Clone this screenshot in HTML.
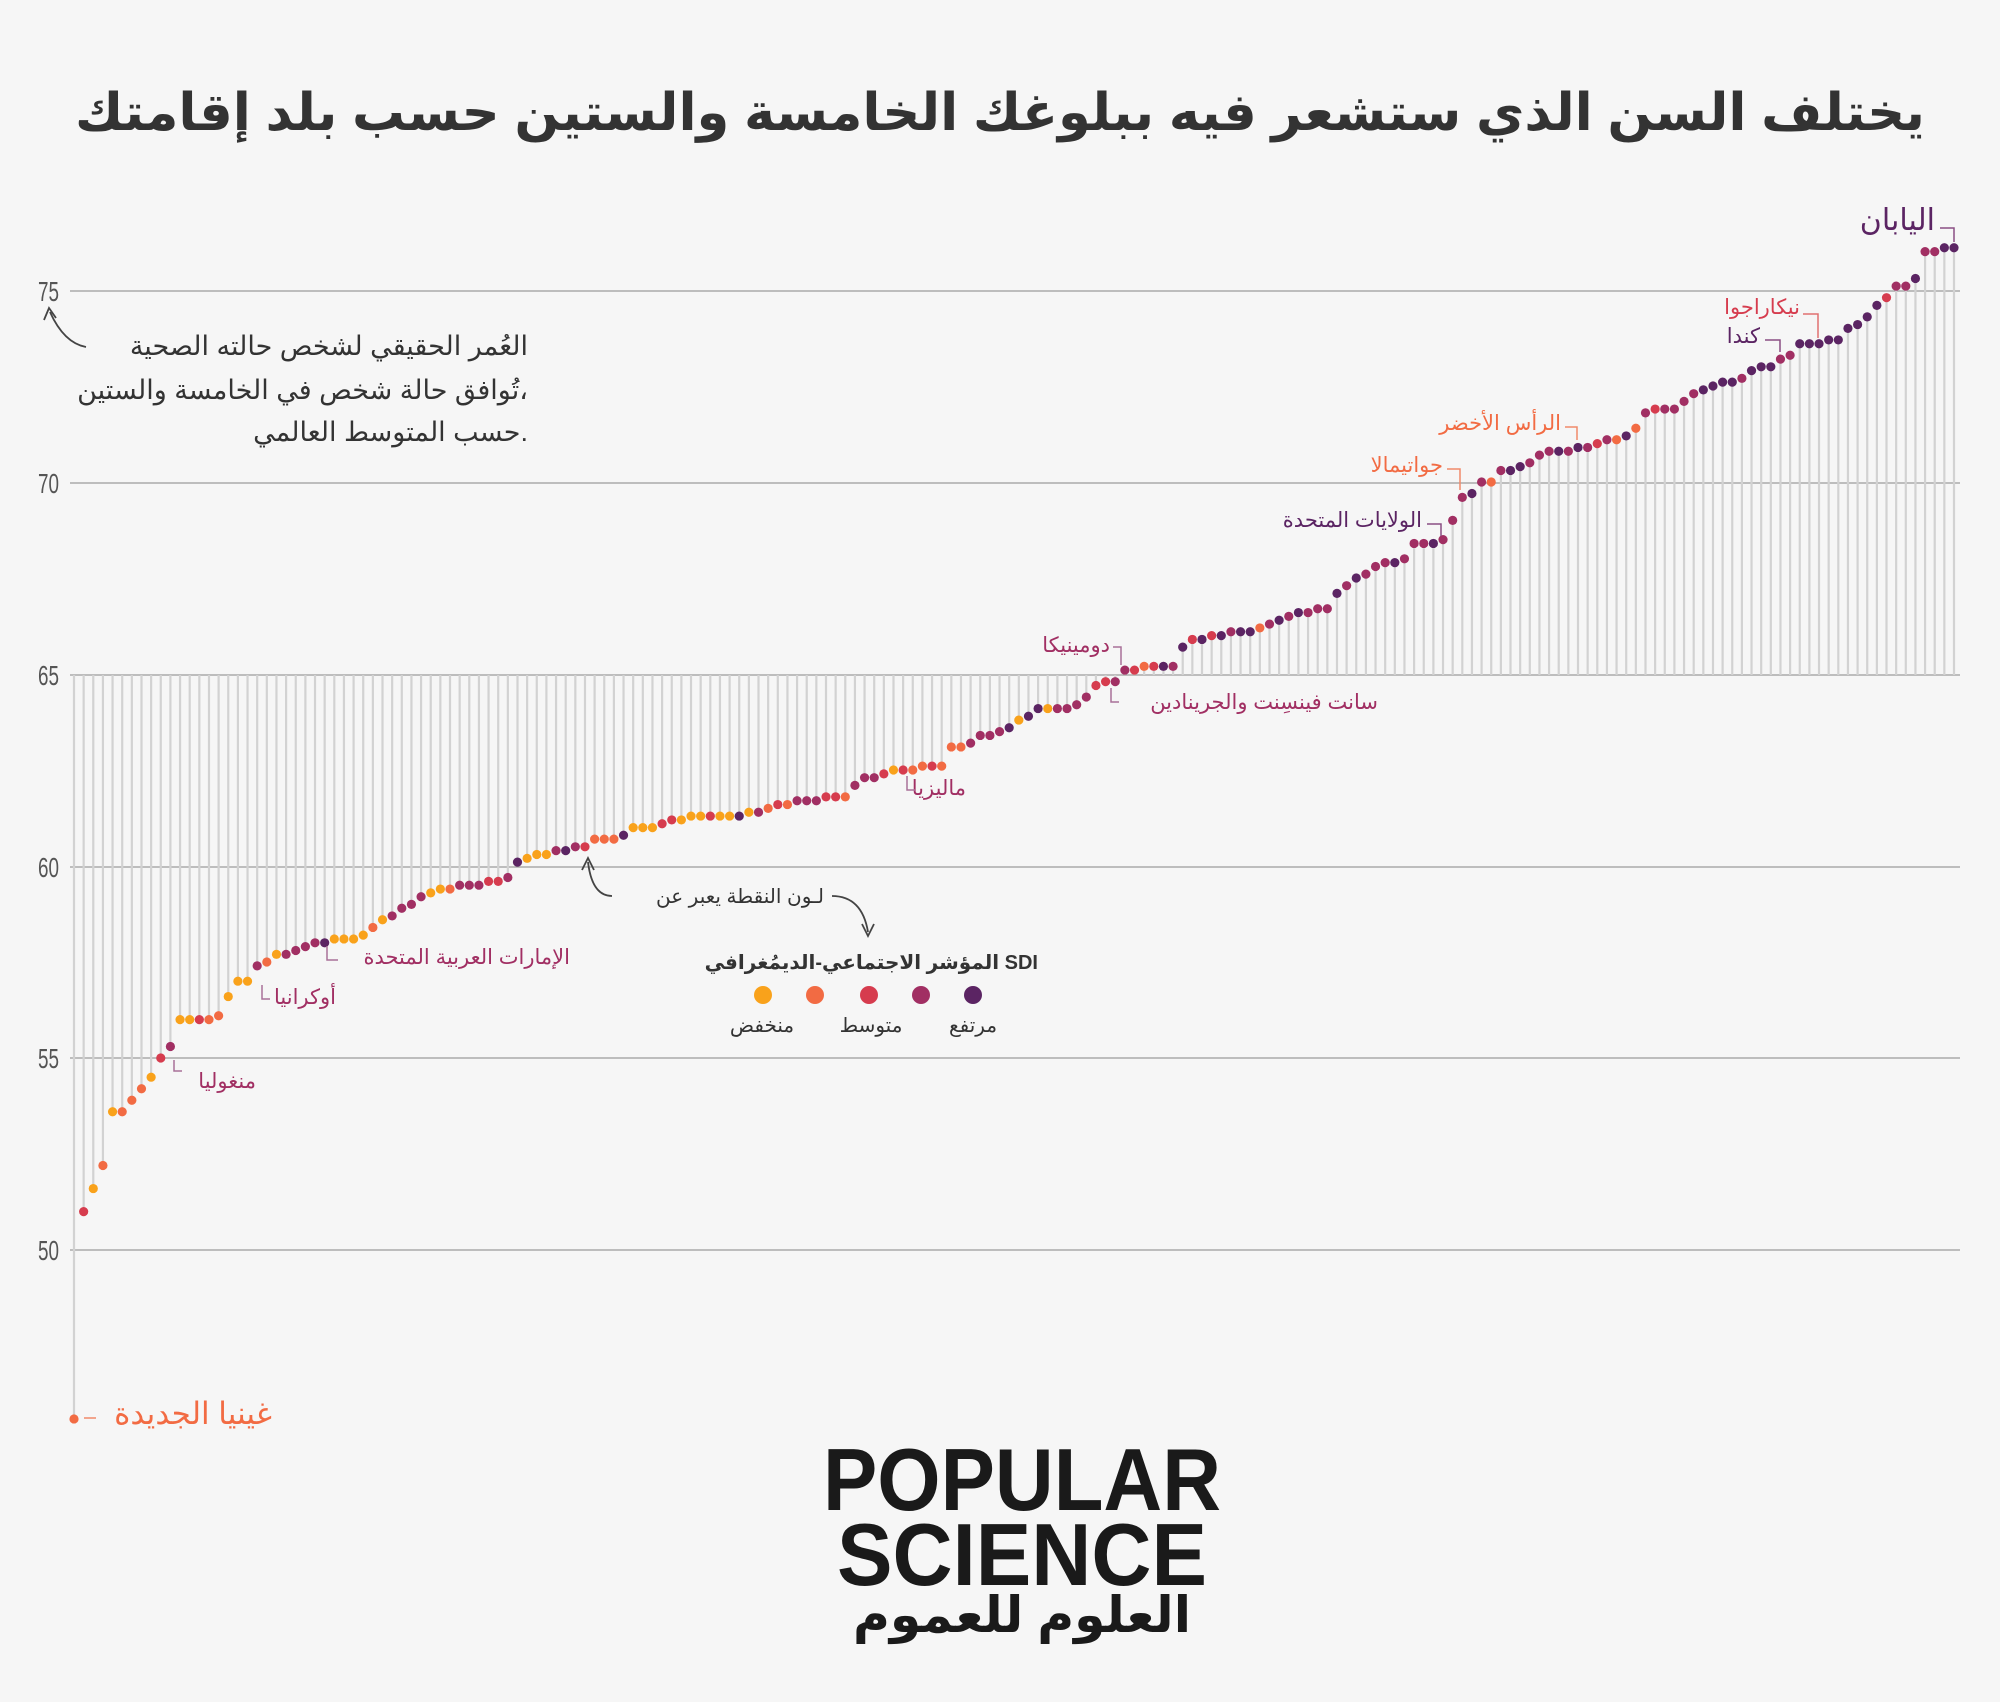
<!DOCTYPE html>
<html><head><meta charset="utf-8">
<style>
html,body{margin:0;padding:0;background:#f6f6f6;}
body{width:2000px;height:1702px;overflow:hidden;}
svg{display:block;font-family:"Liberation Sans","Noto Sans CJK SC","DejaVu Sans",sans-serif;}
</style></head><body>
<svg id="s" width="2000" height="1702" viewBox="0 0 2000 1702">
<rect width="2000" height="1702" fill="#f6f6f6"/>
<text x="1000" y="130" text-anchor="middle" font-size="52" font-weight="bold" fill="#333" textLength="1850" lengthAdjust="spacingAndGlyphs">يختلف السن الذي ستشعر فيه ببلوغك الخامسة والستين حسب بلد إقامتك</text>
<g id="grid" stroke="#aaa" stroke-width="1.5">
<line x1="70" x2="1960" y1="291" y2="291"/>
<line x1="70" x2="1960" y1="483" y2="483"/>
<line x1="70" x2="1960" y1="675" y2="675"/>
<line x1="70" x2="1960" y1="867" y2="867"/>
<line x1="70" x2="1960" y1="1058" y2="1058"/>
<line x1="70" x2="1960" y1="1250" y2="1250"/>
</g>
<g font-size="28" fill="#555" text-anchor="start">
<text x="38" y="301" textLength="21" lengthAdjust="spacingAndGlyphs">75</text><text x="38" y="493" textLength="21" lengthAdjust="spacingAndGlyphs">70</text><text x="38" y="685" textLength="21" lengthAdjust="spacingAndGlyphs">65</text>
<text x="38" y="877" textLength="21" lengthAdjust="spacingAndGlyphs">60</text><text x="38" y="1068" textLength="21" lengthAdjust="spacingAndGlyphs">55</text><text x="38" y="1260" textLength="21" lengthAdjust="spacingAndGlyphs">50</text>
</g>
<g id="stems" stroke="#d2d2d2" stroke-width="2.2"></g>
<g id="dots"></g>
<g font-size="27" fill="#333" text-anchor="end">
<text x="528" y="355">العُمر الحقيقي لشخص حالته الصحية</text>
<text x="528" y="399">تُوافق حالة شخص في الخامسة والستين،</text>
<text x="528" y="441">حسب المتوسط العالمي.</text>
</g>
<path d="M86 347 Q64 343 50 312" fill="none" stroke="#444" stroke-width="1.8"/>
<path d="M44 320 L49 308 L56 318" fill="none" stroke="#444" stroke-width="1.8"/>
<!-- labels -->
<text x="1935" y="230" text-anchor="end" font-size="30" fill="#5b2463">اليابان</text>
<path d="M1940 228 H1954 V242" fill="none" stroke="#8a4f84" stroke-width="1.5"/>
<g font-size="21" text-anchor="end">
<text x="1800" y="314" fill="#d63c4e">نيكاراجوا</text>
<path d="M1803 314 H1818 V338" fill="none" stroke="#e07070" stroke-width="1.5"/>
<text x="1760" y="343" fill="#5b2463">كندا</text>
<path d="M1765 340 H1780 V352" fill="none" stroke="#8a4f84" stroke-width="1.5"/>
<text x="1561" y="430" fill="#f26b43">الرأس الأخضر</text>
<path d="M1565 427 H1577 V440" fill="none" stroke="#f08a6a" stroke-width="1.5"/>
<text x="1443" y="472" fill="#f26b43">جواتيمالا</text>
<path d="M1447 469 H1460 V490" fill="none" stroke="#f08a6a" stroke-width="1.5"/>
<text x="1422" y="527" fill="#5b2463">الولايات المتحدة</text>
<path d="M1427 524 H1441 V536" fill="none" stroke="#8a4f84" stroke-width="1.5"/>
<text x="1110" y="652" fill="#a12f63">دومينيكا</text>
<path d="M1113 647 H1121 V665" fill="none" stroke="#a97199" stroke-width="1.5"/>
<text x="1378" y="709" fill="#a12f63">سانت فينسِنت والجرينادين</text>
<path d="M1111 688 V702 H1119" fill="none" stroke="#a97199" stroke-width="1.5"/>
<text x="966" y="795" fill="#a12f63">ماليزيا</text>
<path d="M907 776 V790 H915" fill="none" stroke="#a97199" stroke-width="1.5"/>
<text x="570" y="964" fill="#a12f63">الإمارات العربية المتحدة</text>
<path d="M327 946 V960 H338" fill="none" stroke="#a97199" stroke-width="1.5"/>
<text x="336" y="1004" fill="#a12f63">أوكرانيا</text>
<path d="M262 985 V999 H270" fill="none" stroke="#a97199" stroke-width="1.5"/>
<text x="256" y="1088" fill="#a12f63">منغوليا</text>
<path d="M174 1060 V1071 H182" fill="none" stroke="#a97199" stroke-width="1.5"/>
</g>
<text x="272" y="1424" text-anchor="end" font-size="31" fill="#f26b43">غينيا الجديدة</text>
<line x1="84" x2="96" y1="1418" y2="1418" stroke="#f08a6a" stroke-width="1.5"/>
<!-- legend -->
<text x="824" y="903" text-anchor="end" font-size="20" fill="#333">لـون النقطة يعبر عن</text>
<path d="M832 896 Q862 896 868 932" fill="none" stroke="#444" stroke-width="1.8"/>
<path d="M862 924 L868 936 L874 924" fill="none" stroke="#444" stroke-width="1.8"/>
<path d="M612 896 Q592 896 588 862" fill="none" stroke="#444" stroke-width="1.8"/>
<path d="M582 870 L588 858 L594 870" fill="none" stroke="#444" stroke-width="1.8"/>
<text x="1038" y="969" text-anchor="end" font-size="20" font-weight="bold" fill="#333">المؤشر الاجتماعي-الديمُغرافي SDI</text>
<circle cx="763" cy="995" r="9" fill="#f9a21b"/>
<circle cx="815" cy="995" r="9" fill="#f26b43"/>
<circle cx="869" cy="995" r="9" fill="#d63c4e"/>
<circle cx="921" cy="995" r="9" fill="#a12f63"/>
<circle cx="973" cy="995" r="9" fill="#5b2463"/>
<g font-size="20" fill="#333" text-anchor="middle">
<text x="762" y="1032">منخفض</text><text x="871" y="1032">متوسط</text><text x="973" y="1032">مرتفع</text>
</g>
<!-- logo -->
<g fill="#1a1a1a" font-weight="bold" text-anchor="middle">
<text x="1022" y="1510" font-size="88" textLength="398" lengthAdjust="spacingAndGlyphs">POPULAR</text>
<text x="1022" y="1585" font-size="88" textLength="370" lengthAdjust="spacingAndGlyphs">SCIENCE</text>
<text x="1022" y="1632" font-size="50" textLength="338" lengthAdjust="spacingAndGlyphs">العلوم للعموم</text>
</g>
</svg>
<script>
var v=[45.6,51.0,51.6,52.2,53.6,53.6,53.9,54.2,54.5,55.0,55.3,56.0,56.0,56.0,56.0,56.1,56.6,57.0,57.0,57.4,57.5,57.7,57.7,57.8,57.9,58.0,58.0,58.1,58.1,58.1,58.2,58.4,58.6,58.7,58.9,59.0,59.2,59.3,59.4,59.4,59.5,59.5,59.5,59.6,59.6,59.7,60.1,60.2,60.3,60.3,60.4,60.4,60.5,60.5,60.7,60.7,60.7,60.8,61.0,61.0,61.0,61.1,61.2,61.2,61.3,61.3,61.3,61.3,61.3,61.3,61.4,61.4,61.5,61.6,61.6,61.7,61.7,61.7,61.8,61.8,61.8,62.1,62.3,62.3,62.4,62.5,62.5,62.5,62.6,62.6,62.6,63.1,63.1,63.2,63.4,63.4,63.5,63.6,63.8,63.9,64.1,64.1,64.1,64.1,64.2,64.4,64.7,64.8,64.8,65.1,65.1,65.2,65.2,65.2,65.2,65.7,65.9,65.9,66.0,66.0,66.1,66.1,66.1,66.2,66.3,66.4,66.5,66.6,66.6,66.7,66.7,67.1,67.3,67.5,67.6,67.8,67.9,67.9,68.0,68.4,68.4,68.4,68.5,69.0,69.6,69.7,70.0,70.0,70.3,70.3,70.4,70.5,70.7,70.8,70.8,70.8,70.9,70.9,71.0,71.1,71.1,71.2,71.4,71.8,71.9,71.9,71.9,72.1,72.3,72.4,72.5,72.6,72.6,72.7,72.9,73.0,73.0,73.2,73.3,73.6,73.6,73.6,73.7,73.7,74.0,74.1,74.3,74.6,74.8,75.1,75.1,75.3,76.0,76.0,76.1,76.1];
var c="2312122213411322111421444451111214444112444334511145432225111331113115142324443324443132232224444515514444334432354535354552454544454544454445444542455444545434252434444555545554455555555534454455545555";
var col={1:"#f9a21b",2:"#f26b43",3:"#d63c4e",4:"#a12f63",5:"#5b2463"};
var ns="http://www.w3.org/2000/svg",st=document.getElementById("stems"),dt=document.getElementById("dots");
var x0=74,step=(1954-x0)/(v.length-1);
for(var i=0;i<v.length;i++){var x=x0+i*step,y=1250-(v[i]-50)*38.4;
var l=document.createElementNS(ns,"line");l.setAttribute("x1",x);l.setAttribute("x2",x);l.setAttribute("y1",675);l.setAttribute("y2",y);st.appendChild(l);
var d=document.createElementNS(ns,"circle");d.setAttribute("cx",x);d.setAttribute("cy",y);d.setAttribute("r",4.6);d.setAttribute("fill",col[c[i]]||"#5b2463");dt.appendChild(d);}
</script>
</body></html>
